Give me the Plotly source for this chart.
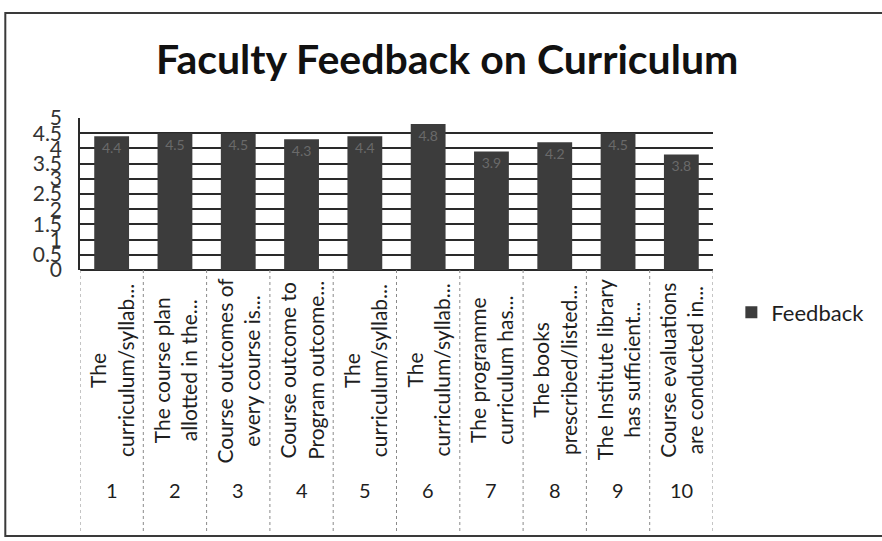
import plotly.graph_objects as go

# Data
item_no = [1, 2, 3, 4, 5, 6, 7, 8, 9, 10]
feedback = [4.4, 4.5, 4.5, 4.3, 4.4, 4.8, 3.9, 4.2, 4.5, 3.8]
item_text = [
    "The<br>curriculum/syllab...",
    "The course plan<br>allotted in the...",
    "Course outcomes of<br>every course is...",
    "Course outcome to<br>Program outcome...",
    "The<br>curriculum/syllab...",
    "The<br>curriculum/syllab...",
    "The programme<br>curriculum has...",
    "The books<br>prescribed/listed...",
    "The Institute library<br>has sufficient...",
    "Course evaluations<br>are conducted in...",
]
y_ticks = [0, 0.5, 1, 1.5, 2, 2.5, 3, 3.5, 4, 4.5, 5]

FONT = "Lato"
INK = "#1e1e1e"

fig = go.Figure()

fig.add_trace(go.Bar(
    x=item_no,
    y=feedback,
    name="Feedback",
    width=0.55,
    marker=dict(color="#3c3c3c", line=dict(width=0)),
    text=[str(v) for v in feedback],
    textposition="inside",
    insidetextanchor="end",
    textangle=0,
    textfont=dict(family=FONT, size=14, color="#6a6a6a"),
    showlegend=True,
))

# category table below the plot: rotated text, then item numbers
for i, txt in zip(item_no, item_text):
    fig.add_annotation(
        x=i, xref="x", y=-0.66, yref="paper",
        text=txt, textangle=-90, showarrow=False,
        xanchor="center", yanchor="middle", align="center",
        font=dict(family=FONT, size=21, color=INK),
    )
    fig.add_annotation(
        x=i, xref="x", y=-1.45, yref="paper",
        text=str(i), showarrow=False,
        xanchor="center", yanchor="middle",
        font=dict(family=FONT, size=20, color=INK),
    )

# dotted dividers of the category table
for i in range(len(item_no) + 1):
    fig.add_shape(
        type="line", xref="x", yref="paper",
        x0=i + 0.5, x1=i + 0.5, y0=0, y1=-1.72,
        line=dict(color="#8a8a8a", width=1, dash="dot"),
    )

# outer chart frame
fig.add_shape(
    type="rect", xref="paper", yref="paper",
    x0=-0.118, x1=1.28, y0=-1.75, y1=1.69,
    line=dict(color="#3a3a3a", width=2),
)

fig.update_layout(
    width=882, height=541,
    margin=dict(l=80, r=169, t=118, b=271, autoexpand=False),
    paper_bgcolor="white",
    plot_bgcolor="white",
    title=dict(
        text="<b>Faculty Feedback on Curriculum</b>",
        x=0.507, xanchor="center", xref="container",
        y=0.889, yanchor="middle", yref="container",
        font=dict(family=FONT, size=41, color="#111"),
    ),
    legend=dict(
        x=1.029, xanchor="left", y=-0.28, yanchor="middle",
        font=dict(family=FONT, size=22, color=INK),
        bgcolor="rgba(0,0,0,0)",
    ),
    bargap=0.45,
)

fig.update_xaxes(
    range=[0.5, 10.5], showticklabels=False, showgrid=False,
    zeroline=False, showline=False, automargin=False,
)
fig.update_yaxes(
    range=[0, 5], tickmode="array", tickvals=y_ticks,
    ticktext=[f"{v:g}" for v in y_ticks],
    showgrid=True, gridcolor="#2a2a2a", gridwidth=1.5,
    showline=True, linecolor="#2a2a2a", linewidth=1.5,
    zeroline=True, zerolinecolor="#2a2a2a", zerolinewidth=1.5,
    ticks="", ticklabelstandoff=12, automargin=False,
    tickfont=dict(family=FONT, size=21, color="#333"),
)

# drop the page's default body margin so the figure fills the window
fig.write_html(
    "out.html",
    config={"displayModeBar": False},
    post_script="document.body.style.margin='0px';",
)
